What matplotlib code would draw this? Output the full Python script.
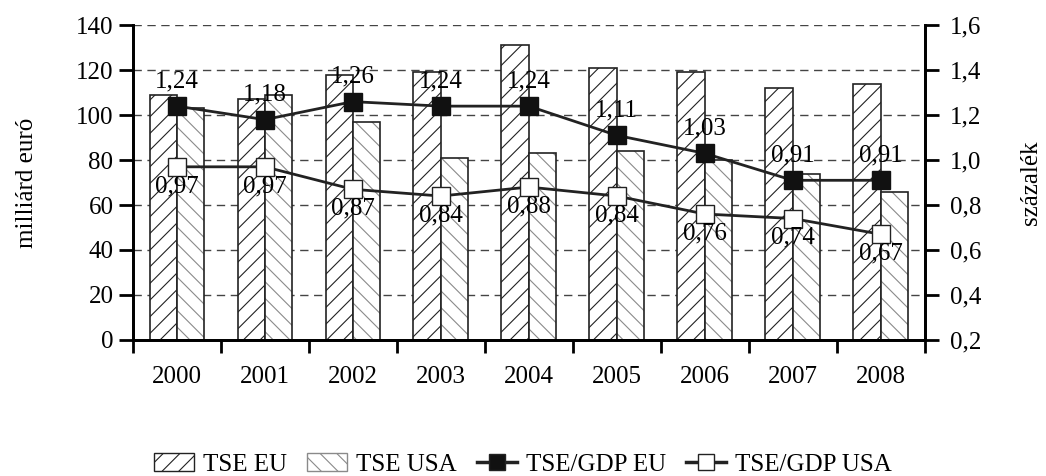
import numpy as np
import matplotlib.pyplot as plt
from matplotlib.lines import Line2D
from matplotlib.patches import Patch

plt.rcParams['font.family'] = ['Liberation Serif', 'DejaVu Serif']
plt.rcParams['hatch.linewidth'] = 0.8

years = ['2000', '2001', '2002', '2003', '2004', '2005', '2006', '2007', '2008']
tse_eu = [109, 107, 118, 119, 131, 121, 119, 112, 114]
tse_usa = [103, 109, 97, 81, 83, 84, 80, 74, 66]
gdp_eu = [1.24, 1.18, 1.26, 1.24, 1.24, 1.11, 1.03, 0.91, 0.91]
gdp_usa = [0.97, 0.97, 0.87, 0.84, 0.88, 0.84, 0.76, 0.74, 0.67]

x = np.arange(len(years))
w = 0.31
fs = 18

fig = plt.figure(figsize=(10.46, 4.76), dpi=100)
ax = fig.add_axes([0.127, 0.286, 0.757, 0.661])
ax2 = ax.twinx()

ax.bar(x - w / 2, tse_eu, w, color='white', edgecolor='#222222', hatch='//', lw=1.2, zorder=2)
# dotted-looking diagonal hatch: grey hatch first, black outline on top
ax.bar(x + w / 2, tse_usa, w, color='white', edgecolor='#8a8a8a', hatch='\\\\', lw=0, zorder=2)
ax.bar(x + w / 2, tse_usa, w, color='none', edgecolor='#222222', lw=1.2, zorder=2)

ax.set_ylim(0, 140)
ax.set_yticks(range(0, 141, 20))
ax.set_xlim(-0.5, len(years) - 0.5)
ax.set_xticks(x)
ax.set_xticklabels(years)
ax.set_xticks(np.arange(-0.5, len(years)), minor=True)
ax.tick_params(axis='x', which='major', length=0, pad=19, labelsize=fs)
ax.tick_params(axis='x', which='minor', length=9, width=2, direction='out')
ax.tick_params(axis='y', length=10, width=2, direction='out', labelsize=fs, pad=4)
ax.yaxis.grid(True, ls=(0, (6, 4)), color='#444444', lw=1)
ax.set_axisbelow(True)
ax.set_ylabel('milliárd euró', fontsize=fs)
ax.yaxis.set_label_coords(-0.12, 0.5)

ax2.plot(x, gdp_eu, color='#222222', lw=2, marker='s', ms=12.5, mfc='#111111', mec='#111111', zorder=5)
ax2.plot(x, gdp_usa, color='#222222', lw=2, marker='s', ms=12.5, mfc='white', mec='#222222', zorder=5)
ax2.set_ylim(0.2, 1.6)
ticks2 = np.arange(0.2, 1.61, 0.2)
ax2.set_yticks(ticks2)
ax2.set_yticklabels([f'{v:.1f}'.replace('.', ',') for v in ticks2])
ax2.tick_params(axis='y', length=10, width=2, direction='out', labelsize=fs, pad=8)
ax2.set_ylabel('százalék', fontsize=fs)
ax2.yaxis.set_label_coords(1.12, 0.5)

for xi, v in zip(x, gdp_eu):
    ax2.annotate(f'{v:.2f}'.replace('.', ','), (xi, v), xytext=(0, 10), textcoords='offset points',
                 ha='center', va='bottom', fontsize=fs, zorder=6)
for xi, v in zip(x, gdp_usa):
    ax2.annotate(f'{v:.2f}'.replace('.', ','), (xi, v), xytext=(0, -6), textcoords='offset points',
                 ha='center', va='top', fontsize=fs, zorder=6)

for a in (ax, ax2):
    a.spines['top'].set_visible(False)
    a.spines['left'].set_linewidth(2)
    a.spines['right'].set_linewidth(2)
    a.spines['bottom'].set_linewidth(2)

handles = [
    Patch(facecolor='white', edgecolor='#222222', hatch='//', label='TSE EU'),
    Patch(facecolor='white', edgecolor='#8a8a8a', hatch='\\\\', label='TSE USA'),
    Line2D([], [], color='#222222', lw=2.5, marker='s', ms=12, mfc='#111111', label='TSE/GDP EU'),
    Line2D([], [], color='#222222', lw=2.5, marker='s', ms=12, mfc='white', label='TSE/GDP USA'),
]
fig.legend(handles=handles, loc='center', bbox_to_anchor=(0.5, 0.024), ncol=4, frameon=False,
           fontsize=fs, handlelength=1.6, handletextpad=0.36, columnspacing=0.8,
           borderpad=0.1)

fig.savefig('out.png', dpi=100)
